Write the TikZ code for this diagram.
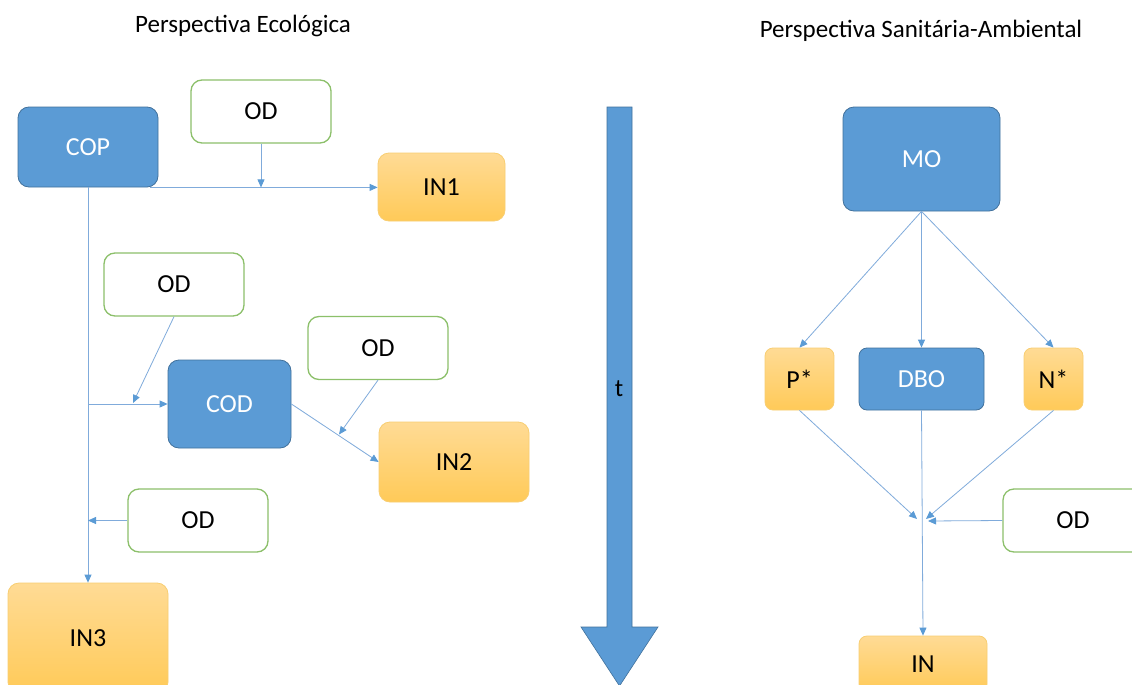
\documentclass[tikz,border=0pt]{standalone}
\usepackage{fontspec}
\setmainfont{Carlito}
\usetikzlibrary{arrows.meta,calc}

\definecolor{boxblue}{HTML}{5B9BD5}
\definecolor{blueedge}{HTML}{41719C}
\definecolor{odgreen}{HTML}{8CC06A}
\definecolor{goldtop}{HTML}{FFDB95}
\definecolor{goldbot}{HTML}{FFCA58}
\definecolor{goldedge}{HTML}{F8CE72}
\definecolor{linkblue}{HTML}{80ABDB}
\definecolor{tipblue}{HTML}{5B9BD5}

\tikzset{
  txt/.style={font=\fontsize{25}{30}\selectfont},
  boxtxt/.style={font=\fontsize{26}{31}\selectfont},
  base/.style={boxtxt, rounded corners=11pt, inner sep=0pt, line width=0.8pt},
  sz/.style 2 args={minimum width=#1pt, minimum height=#2pt},
  bluebox/.style={base, fill=boxblue, draw=blueedge, text=white},
  goldbox/.style={base, top color=goldtop, bottom color=goldbot, draw=goldedge},
  odbox/.style={base, draw=odgreen, line width=1.3pt, fill=white, sz={140}{63}},
  link/.style={draw=linkblue, line width=0.8pt},
  arr/.style={link, -{Triangle[length=8pt,width=7pt,color=tipblue]}},
}

\begin{document}
\begin{tikzpicture}[x=1pt,y=-1pt]
\clip (0,0) rectangle (1132,685);
\fill[white] (0,0) rectangle (1132,685);

% headings
\node[txt] (titleL) at (243,26) {Perspectiva Ecológica};
\node[txt] (titleR) at (921,31) {Perspectiva Sanitária-Ambiental};

% ---- ecological side ----
\node[bluebox, sz={140}{80}] (COP) at (88,147) {COP};
\node[odbox] (OD1) at (261,111.5) {OD};
\node[goldbox, sz={127}{68}] (IN1) at (441.5,187) {IN1};
\node[odbox] (OD2) at (174,284.5) {OD};
\node[bluebox, sz={123}{88}] (COD) at (229.5,404) {COD};
\node[odbox] (OD3) at (378,348) {OD};
\node[goldbox, sz={150}{80}] (IN2) at (454,462) {IN2};
\node[odbox] (OD4) at (198,520.5) {OD};
\node[goldbox, sz={160}{110}] (IN3) at (88,638) {IN3};

\coordinate (cStart) at ($(COP.south east)+(-8,0)$);
\coordinate (j1) at (OD1.south |- COP.south);
\coordinate (j2) at (133,403);
\coordinate (b2) at (COP.south |- COD.west);
\coordinate (j3) at (339,434.5);
\coordinate (j4) at (COP.south |- OD4.west);

\draw[arr] (cStart) -- (IN1.west |- cStart);
\draw[arr] (COP.south) -- (IN3.north);
\draw[arr] (OD1.south) -- (j1);
\draw[arr] (OD2.south) -- (j2);
\draw[arr] (b2) -- (COD.west);
\draw[arr] (COD.east) -- (IN2.west);
\draw[arr] (OD3.south) -- (j3);
\draw[arr] (OD4.west) -- (j4);

% ---- time axis ----
\draw[fill=boxblue, draw=blueedge, line width=0.6pt]
  (607,107) -- (632,107) -- (632,627) -- (658,627) -- (619.5,686)
  -- (581,627) -- (607,627) -- cycle;
\node[txt] (tlabel) at (619,389) {t};

% ---- sanitary-environmental side ----
\node[bluebox, sz={157}{104}] (MO) at (921.5,159) {MO};
\node[goldbox, sz={69}{62}, rounded corners=8pt] (P) at (799.5,379) {P*};
\node[bluebox, sz={125}{62}, rounded corners=8pt] (DBO) at (921.5,379) {DBO};
\node[goldbox, sz={59}{62}, rounded corners=8pt] (N) at (1053.5,379) {N*};
\node[odbox, sz={140}{63}] (OD5) at (1073,520.5) {OD};
\node[goldbox, sz={128}{56}, rounded corners=8pt] (IN) at (923,664) {IN};

\coordinate (mP) at (917,519);
\coordinate (mN) at (926,519);
\coordinate (mOD) at (928,521);

\draw[arr] (MO.south) -- (P.north);
\draw[arr] (MO.south) -- (DBO.north);
\draw[arr] (MO.south) -- (N.north);
\draw[arr] (P.south) -- (mP);
\draw[arr] (N.south) -- (mN);
\draw[arr] (OD5.west) -- (mOD);
\draw[arr] (DBO.south) -- (IN.north);
\end{tikzpicture}
\end{document}
